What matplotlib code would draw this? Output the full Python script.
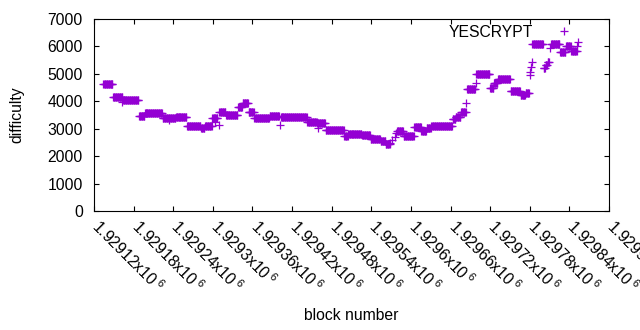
import matplotlib
matplotlib.use('Agg')
import matplotlib.pyplot as plt
import matplotlib.transforms as mtransforms
import numpy as np

plt.rcParams['font.family'] = ['Liberation Sans', 'DejaVu Sans']
plt.rcParams['mathtext.fontset'] = 'custom'
plt.rcParams['mathtext.rm'] = 'Liberation Sans'
plt.rcParams['mathtext.it'] = 'Liberation Sans:italic'

# plateaus: blocks seg_start..seg_end share one difficulty
seg_start = [1929134, 1929149, 1929164, 1929188, 1929197, 1929224, 1929244, 1929261,
             1929274, 1929282, 1929288, 1929299, 1929310, 1929320, 1929338, 1929345,
             1929354, 1929363, 1929386, 1929403, 1929443, 1929458, 1929471, 1929499,
             1929505, 1929526, 1929539, 1929554, 1929562, 1929579, 1929589, 1929605,
             1929616, 1929624, 1929631, 1929663, 1929668, 1929676, 1929685, 1929699,
             1929720, 1929726, 1929732, 1929751, 1929766, 1929774, 1929784, 1929801,
             1929804, 1929807, 1929812, 1929826, 1929835, 1929843]
seg_end = [1929148, 1929163, 1929187, 1929196, 1929223, 1929243, 1929260, 1929273,
           1929281, 1929287, 1929298, 1929307, 1929319, 1929337, 1929344, 1929353,
           1929362, 1929385, 1929400, 1929442, 1929457, 1929470, 1929498, 1929504,
           1929525, 1929538, 1929553, 1929561, 1929568, 1929588, 1929604, 1929615,
           1929623, 1929630, 1929662, 1929667, 1929675, 1929683, 1929697, 1929719,
           1929725, 1929731, 1929750, 1929765, 1929773, 1929779, 1929800, 1929803,
           1929806, 1929809, 1929825, 1929834, 1929842, 1929851]
seg_diff = [4620, 4145, 4035, 3455, 3561, 3378, 3415, 3110,
            3085, 3040, 3100, 3380, 3620, 3490, 3792, 3925,
            3625, 3385, 3450, 3415, 3233, 3200, 2945, 2734,
            2800, 2760, 2615, 2552, 2435, 2900, 2734, 3050,
            2928, 3014, 3110, 3354, 3438, 3598, 4430, 4983,
            4472, 4678, 4795, 4360, 4230, 4300, 6085, 5225,
            5323, 5443, 6077, 5808, 6010, 5830]

# single blocks off the plateaus
pt_block = [1929163, 1929234, 1929304, 1929309, 1929401, 1929460, 1929569, 1929572,
            1929576, 1929578, 1929684, 1929698, 1929780, 1929781, 1929782, 1929783,
            1929811, 1929852, 1929853]
pt_diff = [3960, 3300, 3256, 3135, 3130, 3014, 2490, 2588,
           2710, 2855, 3925, 4678, 4960, 5080, 5261, 5443,
           5931, 6027, 6173]

x_ticks = np.arange(1929120, 1929901, 60)
y_ticks = np.arange(0, 7001, 1000)

blocks = np.concatenate([np.arange(s, e + 1) for s, e in zip(seg_start, seg_end)] + [pt_block])
diffs = np.concatenate([np.full(e - s + 1, d) for s, e, d in zip(seg_start, seg_end, seg_diff)] + [pt_diff])
order = np.argsort(blocks)
blocks, diffs = blocks[order], diffs[order]

fig = plt.figure(figsize=(6.4, 3.3), dpi=100)
ax = fig.add_axes([94 / 640, 1 - 211 / 330, 515 / 640, 192 / 330])

ax.plot(blocks, diffs, linestyle='none', marker='+', markersize=5.2, markeredgewidth=0.9,
        color='#9400D3', label='YESCRYPT')

ax.set_xlim(1929120, 1929900)
ax.set_ylim(0, 7000)
ax.set_yticks(y_ticks)
ax.set_xticks(x_ticks)
ax.set_xticklabels([f'{v / 1e6:.6g}x10$^{{\\ 6}}$' for v in x_ticks],
                   rotation=-45, ha='left', va='center', rotation_mode='anchor')
ax.tick_params(axis='both', direction='in', length=3.5, width=0.8, labelsize=11.3,
               top=True, right=True)
ax.tick_params(axis='y', pad=8)
ax.tick_params(axis='x', pad=8.5)
shift = mtransforms.ScaledTranslation(1 / 100, 0, fig.dpi_scale_trans)
for lab in ax.get_xticklabels():
    lab.set_transform(lab.get_transform() + shift)
for s in ax.spines.values():
    s.set_linewidth(0.8)

ax.set_xlabel('block number', fontsize=11.3)
ax.set_ylabel('difficulty', fontsize=11.3)
ax.xaxis.set_label_coords(0.5, -0.505)
ax.yaxis.set_label_coords(-0.135, 0.5)

ax.legend(loc='upper right', bbox_to_anchor=(0.953, 1.02), frameon=False, markerfirst=False,
          fontsize=11.3, handlelength=1.5, handletextpad=1.2, borderaxespad=0.2)

fig.savefig('out.png', dpi=100)
